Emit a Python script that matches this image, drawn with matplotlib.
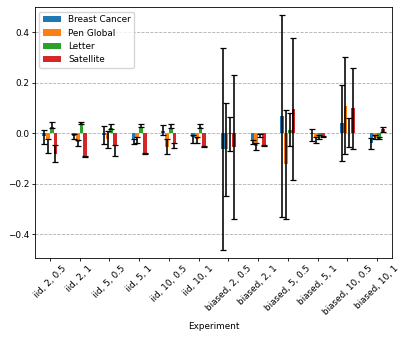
import numpy as np
import matplotlib
matplotlib.use("Agg")
import matplotlib.pyplot as plt

experiments = ["iid, 2, 0.5", "iid, 2, 1", "iid, 5, 0.5", "iid, 5, 1", "iid, 10, 0.5", "iid, 10, 1",
               "biased, 2, 0.5", "biased, 2, 1", "biased, 5, 0.5", "biased, 5, 1",
               "biased, 10, 0.5", "biased, 10, 1"]
datasets = ["Breast Cancer", "Pen Global", "Letter", "Satellite"]

# mean values per dataset
breast = [-0.012, -0.012, -0.007, -0.025, 0.009, -0.017, -0.061, -0.028, 0.067, -0.005, 0.041, -0.038]
pen = [-0.028, -0.034, -0.025, -0.015, -0.054, -0.022, -0.063, -0.050, -0.124, -0.021, 0.107, -0.016]
letter = [0.025, 0.041, 0.022, 0.025, 0.022, 0.024, -0.004, -0.008, 0.011, -0.009, 0.002, -0.025]
satellite = [-0.081, -0.094, -0.048, -0.081, -0.038, -0.051, -0.054, -0.048, 0.095, -0.013, 0.098, 0.018]

# lower / upper ends of the error bars
breast_lo = [-0.041, -0.023, -0.041, -0.044, -0.008, -0.037, -0.463, -0.044, -0.334, -0.030, -0.110, -0.061]
breast_hi = [0.012, -0.002, 0.028, -0.025, 0.032, -0.008, 0.339, -0.028, 0.467, 0.017, 0.190, -0.019]
pen_lo = [-0.078, -0.051, -0.057, -0.037, -0.084, -0.037, -0.250, -0.067, -0.339, -0.038, -0.084, -0.024]
pen_hi = [-0.025, -0.028, 0.009, -0.017, -0.025, -0.017, 0.120, -0.038, 0.091, -0.016, 0.302, -0.008]
letter_lo = [0.019, 0.035, 0.015, 0.025, 0.019, 0.022, -0.070, -0.015, -0.051, -0.022, -0.054, -0.025]
letter_hi = [0.045, 0.046, 0.038, 0.036, 0.036, 0.036, 0.065, -0.004, 0.080, -0.008, 0.061, -0.014]
satellite_lo = [-0.116, -0.096, -0.091, -0.083, -0.057, -0.053, -0.339, -0.050, -0.187, -0.015, -0.062, 0.005]
satellite_hi = [-0.048, -0.092, -0.045, -0.079, -0.037, -0.049, 0.230, -0.046, 0.377, -0.011, 0.259, 0.023]

means = [breast, pen, letter, satellite]
lows = [breast_lo, pen_lo, letter_lo, satellite_lo]
highs = [breast_hi, pen_hi, letter_hi, satellite_hi]
colors = ["#1f77b4", "#ff7f0e", "#2ca02c", "#d62728"]

fs = 6.4
plt.rcParams["axes.linewidth"] = 0.6
plt.rcParams["xtick.major.width"] = 0.6
plt.rcParams["ytick.major.width"] = 0.6
plt.rcParams["xtick.major.size"] = 2.3
plt.rcParams["ytick.major.size"] = 2.3

fig, ax = plt.subplots(figsize=(4.07, 3.39), dpi=100)
fig.subplots_adjust(left=0.086, right=0.963, top=0.979, bottom=0.239)

x = np.arange(len(experiments))
width = 0.125
for j, name in enumerate(datasets):
    v = np.array(means[j])
    lo = np.array(lows[j])
    hi = np.array(highs[j])
    yerr = [np.clip(v - lo, 0, None), np.clip(hi - v, 0, None)]
    ax.bar(x + (j - 1.5) * width, v, width, color=colors[j], label=name,
           yerr=yerr, capsize=2, error_kw=dict(ecolor="black", elinewidth=1.15, capthick=0.9), zorder=2)

ax.set_xticks(x)
ax.set_xticklabels(experiments, rotation=45, fontsize=fs)
ax.tick_params(axis="y", labelsize=fs)
ax.tick_params(axis="both", pad=2)
ax.set_xlabel("Experiment", fontsize=fs, labelpad=4)
ax.set_xlim(-0.5, 11.5)
ax.set_ylim(-0.495, 0.5)
ax.set_yticks([-0.4, -0.2, 0.0, 0.2, 0.4])
ax.yaxis.grid(True, linestyle="--", color="#b0b0b0", linewidth=0.6, zorder=0)
ax.set_axisbelow(True)
ax.legend(loc="upper left", fontsize=fs)

fig.savefig("out.png", dpi=100)
